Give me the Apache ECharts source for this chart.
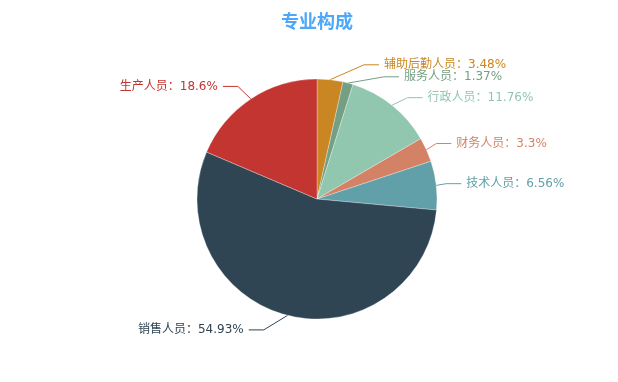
<!DOCTYPE html>
<html><head><meta charset="utf-8">
<script src="https://cdn.jsdelivr.net/npm/echarts@6/dist/echarts.min.js"></script>
<style>html,body{margin:0;padding:0;background:#fff}#c{width:618px;height:382px}</style>
</head><body><div id="c"></div>
<script>
const categories = ['辅助后勤人员','服务人员','行政人员','财务人员','技术人员','销售人员','生产人员'];
const values = [3.48, 1.37, 11.76, 3.3, 6.56, 54.93, 18.6];
const colors = ['#ca8622','#749f83','#91c7ae','#d48265','#61a0a8','#2f4554','#c23531'];

const CX = 317, CY = 199, R = 120, LEN = 15, LEN2 = 15, LH = 12;

// classic (ECharts 4 style) outside-label layout, derived from the data angles
function computeLabelLayout() {
  const total = values.reduce((a, b) => a + b, 0);
  let acc = 0;
  const items = values.map((v, i) => {
    const midDeg = 90 - (acc + v / 2) / total * 360;
    acc += v;
    const rad = midDeg * Math.PI / 180;
    const dx = Math.cos(rad), dy = -Math.sin(rad);
    return {i, x0: CX + R * dx, y0: CY + R * dy,
      x: CX + (R + LEN) * dx, y: CY + (R + LEN) * dy, dir: dx < 0 ? -1 : 1, h: LH};
  });
  [1, -1].forEach(dir => {
    const list = items.filter(it => it.dir === dir).sort((a, b) => a.y - b.y);
    function shiftUp(end, delta) {
      for (let j = end; j >= 0; j--) {
        list[j].y -= delta;
        if (j > 0 && list[j].y > list[j - 1].y + list[j - 1].h) break;
      }
    }
    function shiftDown(start, end, delta) {
      for (let j = start; j < end; j++) {
        list[j].y += delta;
        if (j > start && j + 1 < end && list[j + 1].y > list[j].y + list[j].h) {
          shiftUp(j, delta / 2);
          return;
        }
      }
      shiftUp(end - 1, delta / 2);
    }
    let lastY = 0;
    for (let i = 0; i < list.length; i++) {
      const d = list[i].y - lastY;
      if (d < 0) shiftDown(i, list.length, -d);
      lastY = list[i].y + list[i].h;
    }
    const up = list.filter(it => it.y < CY), down = list.filter(it => it.y >= CY);
    function changeX(arr, isDown) {
      let last = isDown ? Number.MAX_VALUE : 0;
      arr.forEach(it => {
        const deltaY = Math.abs(it.y - CY);
        let deltaX = deltaY < R + LEN
          ? Math.sqrt((R + LEN + LEN2) * (R + LEN + LEN2) - deltaY * deltaY)
          : Math.abs(it.x - CX);
        if (isDown && deltaX >= last) deltaX = last - 10;
        if (!isDown && deltaX <= last) deltaX = last + 10;
        it.x = CX + deltaX * dir;
        last = deltaX;
      });
    }
    changeX(up, false);
    changeX(down, true);
  });
  return items;
}
const labelPos = computeLabelLayout();

const chart = echarts.init(document.getElementById('c'));
chart.setOption({
  animation: false,
  textStyle: {fontFamily: 'DejaVu Sans, Noto Sans CJK SC, sans-serif'},
  title: {text: '专业构成', left: 276, top: 7,
    textStyle: {color: '#4ea8f7', fontSize: 18, fontWeight: 'bold', fontFamily: 'Noto Sans CJK SC, sans-serif'}},
  series: [{
    type: 'pie',
    center: [CX, CY],
    radius: R,
    startAngle: 90,
    clockwise: true,
    avoidLabelOverlap: false,
    data: categories.map((n, i) => ({name: n, value: values[i], itemStyle: {color: colors[i]}})),
    itemStyle: {borderColor: '#fff', borderWidth: 0.3},
    label: {formatter: '{b}：{c}%', color: 'inherit', fontSize: 12},
    labelLine: {length: LEN, length2: LEN2, lineStyle: {width: 1}},
    labelLayout: function (params) {
      const p = labelPos[params.dataIndex];
      return {
        x: p.x, y: p.y,
        align: p.dir > 0 ? 'left' : 'right',
        verticalAlign: 'middle',
        labelLinePoints: [[p.x0, p.y0], [p.x - p.dir * 20, p.y], [p.x - p.dir * 5, p.y]]
      };
    }
  }]
});
</script></body></html>
